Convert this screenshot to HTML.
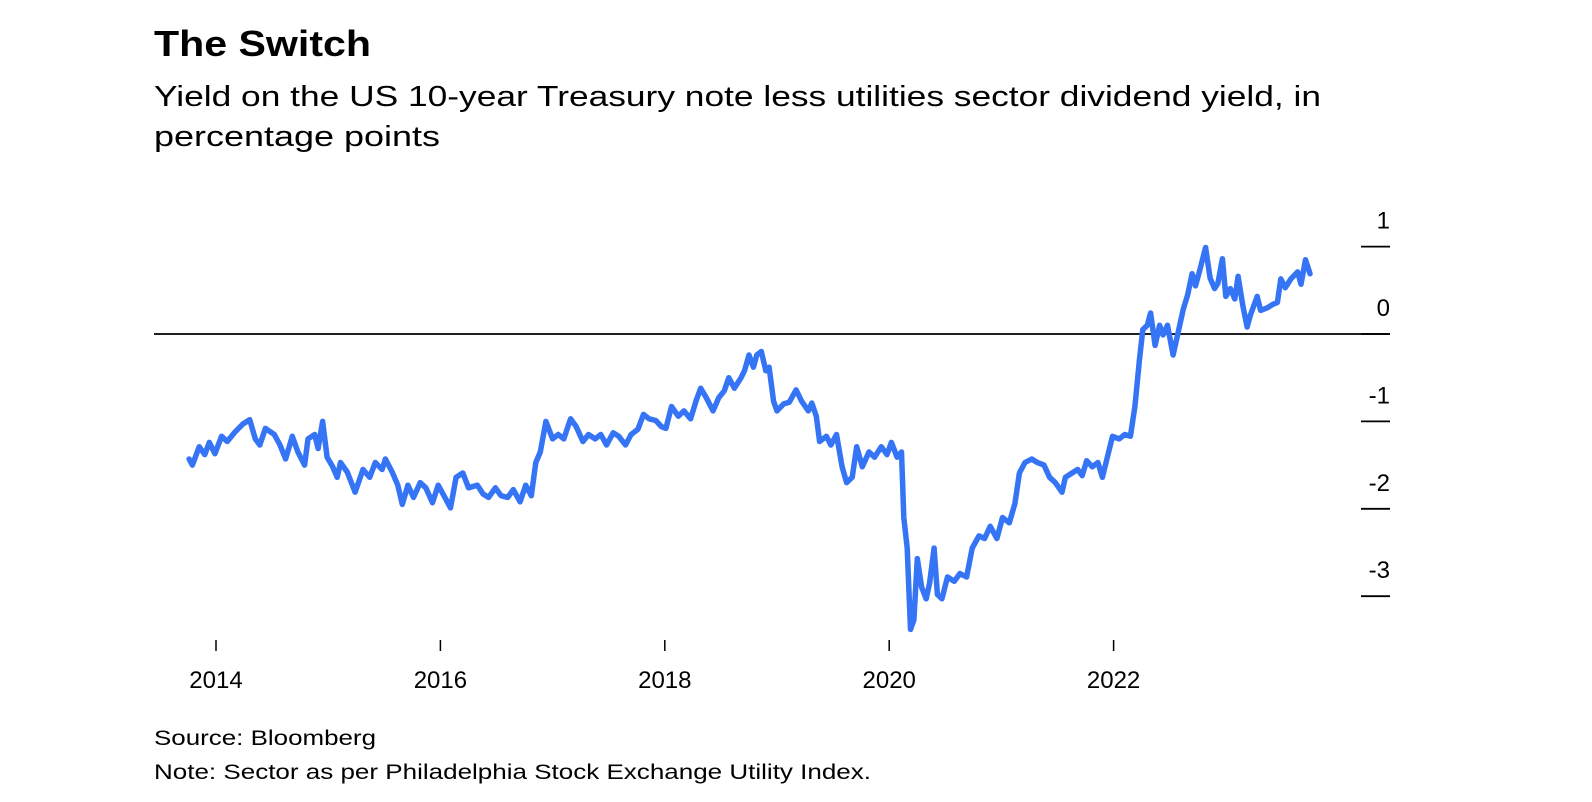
<!DOCTYPE html>
<html><head><meta charset="utf-8"><style>
html,body{margin:0;padding:0;background:#fff;}
svg{display:block;font-family:"Liberation Sans",Arial,sans-serif;}
</style></head><body>
<svg id="chart" width="1592" height="802" viewBox="0 0 1592 802">
<text x="154" y="56" font-size="36" font-weight="bold" fill="#000" textLength="217" lengthAdjust="spacingAndGlyphs">The Switch</text>
<text x="154" y="106" font-size="29" fill="#000" textLength="1167" lengthAdjust="spacingAndGlyphs">Yield on the US 10-year Treasury note less utilities sector dividend yield, in</text>
<text x="154" y="146" font-size="29" fill="#000" textLength="286" lengthAdjust="spacingAndGlyphs">percentage points</text>
<g id="yaxis"></g>
<g id="xaxis"></g>
<line x1="154" y1="334" x2="1390" y2="334" stroke="#000" stroke-width="1.8"/>
<path id="series" fill="none" stroke="#3574f5" stroke-width="5.5" stroke-linejoin="round" stroke-linecap="round"/>
<text x="154" y="745" font-size="21" fill="#000" textLength="222" lengthAdjust="spacingAndGlyphs">Source: Bloomberg</text>
<text x="154" y="779" font-size="21" fill="#000" textLength="717" lengthAdjust="spacingAndGlyphs">Note: Sector as per Philadelphia Stock Exchange Utility Index.</text>
</svg>
<script>
const years = [2013.76,2013.79,2013.85,2013.90,2013.94,2013.99,2014.05,2014.10,2014.17,2014.24,2014.30,2014.35,2014.39,2014.44,2014.52,2014.57,2014.62,2014.68,2014.73,2014.79,2014.82,2014.88,2014.91,2014.95,2014.99,2015.04,2015.08,2015.11,2015.17,2015.24,2015.31,2015.37,2015.42,2015.48,2015.51,2015.57,2015.62,2015.66,2015.71,2015.76,2015.82,2015.87,2015.93,2015.98,2016.04,2016.09,2016.14,2016.20,2016.25,2016.33,2016.38,2016.43,2016.49,2016.54,2016.60,2016.65,2016.71,2016.76,2016.81,2016.85,2016.89,2016.94,2017.00,2017.05,2017.10,2017.16,2017.21,2017.27,2017.32,2017.38,2017.43,2017.48,2017.54,2017.59,2017.65,2017.70,2017.76,2017.81,2017.86,2017.92,2017.97,2018.01,2018.06,2018.12,2018.17,2018.23,2018.28,2018.32,2018.37,2018.43,2018.48,2018.53,2018.57,2018.62,2018.68,2018.71,2018.75,2018.79,2018.82,2018.86,2018.90,2018.93,2018.97,2019.00,2019.06,2019.11,2019.17,2019.22,2019.28,2019.31,2019.35,2019.38,2019.44,2019.48,2019.53,2019.58,2019.62,2019.67,2019.71,2019.76,2019.82,2019.87,2019.93,2019.98,2020.02,2020.07,2020.11,2020.13,2020.16,2020.19,2020.22,2020.25,2020.29,2020.33,2020.36,2020.40,2020.43,2020.47,2020.52,2020.58,2020.63,2020.69,2020.74,2020.80,2020.85,2020.90,2020.96,2021.01,2021.07,2021.12,2021.16,2021.21,2021.27,2021.32,2021.38,2021.43,2021.48,2021.54,2021.57,2021.63,2021.68,2021.72,2021.76,2021.81,2021.86,2021.90,2021.94,2021.99,2022.05,2022.10,2022.15,2022.19,2022.23,2022.26,2022.30,2022.33,2022.37,2022.41,2022.44,2022.48,2022.53,2022.57,2022.62,2022.66,2022.70,2022.73,2022.77,2022.82,2022.86,2022.90,2022.93,2022.97,2023.00,2023.04,2023.08,2023.11,2023.15,2023.19,2023.22,2023.28,2023.31,2023.37,2023.42,2023.46,2023.49,2023.53,2023.58,2023.64,2023.67,2023.71,2023.75];
const spread = [-1.43,-1.50,-1.29,-1.38,-1.24,-1.37,-1.17,-1.23,-1.12,-1.03,-0.98,-1.20,-1.27,-1.08,-1.15,-1.27,-1.43,-1.17,-1.35,-1.50,-1.20,-1.15,-1.31,-1.00,-1.41,-1.52,-1.64,-1.47,-1.58,-1.81,-1.55,-1.64,-1.47,-1.55,-1.43,-1.58,-1.73,-1.95,-1.73,-1.87,-1.70,-1.76,-1.93,-1.73,-1.87,-1.99,-1.64,-1.59,-1.76,-1.73,-1.83,-1.87,-1.76,-1.85,-1.87,-1.78,-1.92,-1.73,-1.85,-1.47,-1.35,-1.00,-1.20,-1.15,-1.20,-0.97,-1.06,-1.23,-1.15,-1.20,-1.15,-1.27,-1.13,-1.17,-1.27,-1.15,-1.09,-0.92,-0.97,-0.99,-1.06,-1.08,-0.83,-0.94,-0.88,-0.97,-0.76,-0.62,-0.73,-0.88,-0.73,-0.65,-0.50,-0.62,-0.50,-0.42,-0.24,-0.38,-0.24,-0.20,-0.42,-0.38,-0.77,-0.88,-0.80,-0.78,-0.64,-0.77,-0.88,-0.79,-0.94,-1.23,-1.17,-1.27,-1.15,-1.52,-1.70,-1.64,-1.29,-1.52,-1.35,-1.41,-1.29,-1.38,-1.24,-1.41,-1.35,-2.10,-2.45,-3.38,-3.27,-2.57,-2.90,-3.03,-2.85,-2.45,-2.98,-3.03,-2.78,-2.83,-2.74,-2.78,-2.45,-2.31,-2.34,-2.20,-2.34,-2.10,-2.16,-1.94,-1.59,-1.47,-1.43,-1.47,-1.50,-1.64,-1.70,-1.81,-1.64,-1.59,-1.55,-1.62,-1.45,-1.52,-1.47,-1.64,-1.43,-1.17,-1.20,-1.15,-1.17,-0.83,-0.30,0.05,0.10,0.24,-0.13,0.10,-0.01,0.10,-0.24,-0.01,0.28,0.45,0.69,0.55,0.74,0.99,0.64,0.52,0.58,0.86,0.43,0.52,0.40,0.66,0.34,0.08,0.22,0.43,0.27,0.30,0.34,0.36,0.63,0.53,0.63,0.71,0.57,0.85,0.69];
const xTickYears = [2014,2016,2018,2020,2022];
const xTickLabels = ["2014","2016","2018","2020","2022"];
const yTickValues = [1,0,-1,-2,-3];
const yTickLabels = ["1","0","-1","-2","-3"];

const NS = "http://www.w3.org/2000/svg";
function xScale(yr){ return 216 + (yr - 2014) * 112.2; }
function yScale(v){ return 334 - v * 87.4; }

const yAxis = document.getElementById('yaxis');
yTickValues.forEach((v, i) => {
  const y = yScale(v);
  const ln = document.createElementNS(NS, 'line');
  
  
  ln.setAttribute('x1', 1361); ln.setAttribute('x2', 1390);
  ln.setAttribute('y1', y); ln.setAttribute('y2', y);
  ln.setAttribute('stroke', '#000'); ln.setAttribute('stroke-width', '1.8');
  yAxis.appendChild(ln);
  const t = document.createElementNS(NS, 'text');
  
  
  t.setAttribute('x', 1390); t.setAttribute('y', y - 18);
  t.setAttribute('text-anchor', 'end'); t.setAttribute('font-size', '24');
  t.textContent = yTickLabels[i];
  yAxis.appendChild(t);
});

const xAxis = document.getElementById('xaxis');
xTickYears.forEach((yr, i) => {
  const x = xScale(yr);
  const ln = document.createElementNS(NS, 'line');
  
  
  ln.setAttribute('x1', x); ln.setAttribute('x2', x);
  ln.setAttribute('y1', 640); ln.setAttribute('y2', 651);
  ln.setAttribute('stroke', '#000'); ln.setAttribute('stroke-width', '1.5');
  xAxis.appendChild(ln);
  const t = document.createElementNS(NS, 'text');
  
  
  t.setAttribute('x', x); t.setAttribute('y', 688);
  t.setAttribute('text-anchor', 'middle'); t.setAttribute('font-size', '24');
  t.textContent = xTickLabels[i];
  xAxis.appendChild(t);
});

let d = '';
years.forEach((yr, i) => {
  d += (i ? 'L' : 'M') + xScale(yr).toFixed(1) + ',' + yScale(spread[i]).toFixed(1);
});
document.getElementById('series').setAttribute('d', d);
</script>
</body></html>
